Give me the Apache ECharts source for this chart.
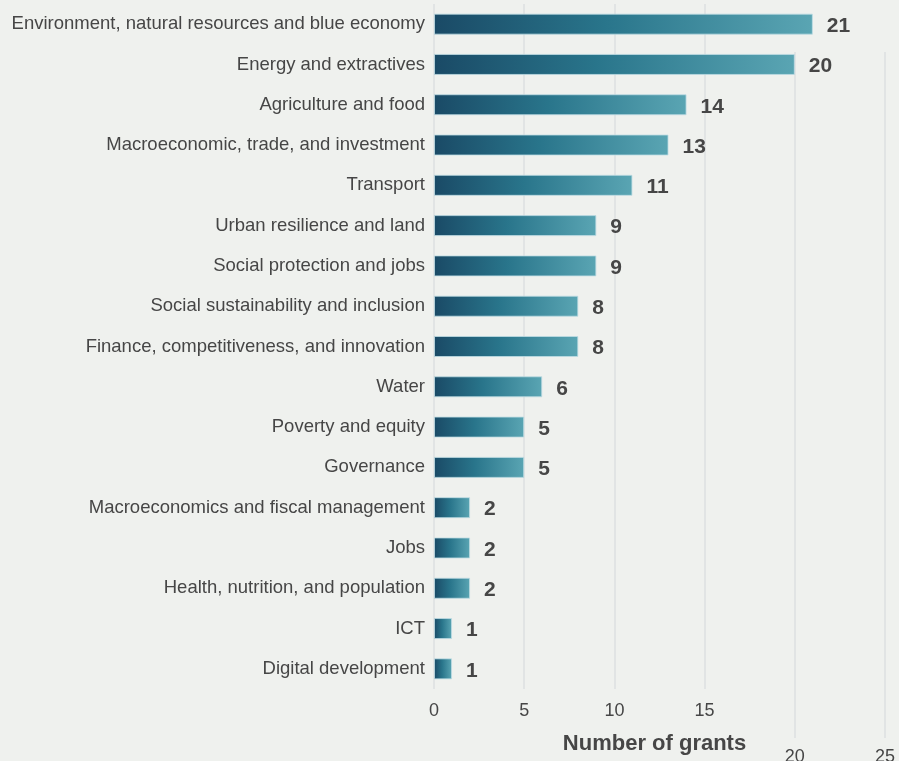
<!DOCTYPE html>
<html>
<head>
<meta charset="utf-8">
<script src="https://cdn.jsdelivr.net/npm/echarts@6/dist/echarts.min.js"></script>
<style>
  html, body { margin: 0; padding: 0; background: #eff1ee; }
  #chart { width: 899px; height: 761px; }
</style>
</head>
<body>
<div id="chart"></div>
<script>
// Grant counts by practice area, largest first
const categories = [
  'Environment, natural resources and blue economy',
  'Energy and extractives',
  'Agriculture and food',
  'Macroeconomic, trade, and investment',
  'Transport',
  'Urban resilience and land',
  'Social protection and jobs',
  'Social sustainability and inclusion',
  'Finance, competitiveness, and innovation',
  'Water',
  'Poverty and equity',
  'Governance',
  'Macroeconomics and fiscal management',
  'Jobs',
  'Health, nutrition, and population',
  'ICT',
  'Digital development'
];
const grants = [21, 20, 14, 13, 11, 9, 9, 8, 8, 6, 5, 5, 2, 2, 2, 1, 1];
const xTicks = [0, 5, 10, 15, 20, 25];
const axisTitle = 'Number of grants';

const FONT = 'Liberation Sans, Arial, sans-serif';
const TEXT = '#464646';
const GRID_LINE = '#dcdfe1';

const chart = echarts.init(document.getElementById('chart'), null, { renderer: 'canvas' });

const barGradient = new echarts.graphic.LinearGradient(0, 0, 1, 0, [
  { offset: 0, color: '#1a4a66' },
  { offset: 0.45, color: '#29758b' },
  { offset: 1, color: '#5aa5b3' }
]);

// ticks up to 15 sit on the upper axis, the rest on the lower one
const lowTicks = xTicks.filter(v => v <= 15);

chart.setOption({
  backgroundColor: '#eff1ee',
  animation: false,
  grid: [
    { left: 434, right: 14, top: 4, bottom: 72, outerBoundsMode: 'none' },
    { left: 434, right: 14, top: 52, bottom: 23, outerBoundsMode: 'none' }
  ],
  xAxis: [
    {
      gridIndex: 0,
      type: 'value',
      min: xTicks[0],
      max: xTicks[xTicks.length - 1],
      interval: 5,
      axisLine: { show: false },
      axisTick: { show: false },
      splitLine: {
        show: true,
        lineStyle: {
          color: xTicks.map(v => (v <= 15 ? GRID_LINE : 'rgba(0,0,0,0)')),
          width: 1.5
        }
      },
      axisLabel: {
        margin: 13,
        fontFamily: FONT,
        fontSize: 18,
        color: TEXT,
        formatter: v => (lowTicks.indexOf(v) >= 0 ? String(v) : '')
      },
      name: axisTitle,
      nameLocation: 'middle',
      nameGap: 44,
      nameTextStyle: {
        fontFamily: FONT,
        fontSize: 22,
        fontWeight: 'bold',
        color: TEXT,
        padding: [0, 10, 0, 0]
      }
    },
    {
      gridIndex: 1,
      type: 'value',
      min: xTicks[0],
      max: xTicks[xTicks.length - 1],
      interval: 5,
      axisLine: { show: false },
      axisTick: { show: false },
      splitLine: {
        show: true,
        lineStyle: {
          color: xTicks.map(v => (v > 15 ? GRID_LINE : 'rgba(0,0,0,0)')),
          width: 1.5
        }
      },
      axisLabel: {
        margin: 10,
        fontFamily: FONT,
        fontSize: 18,
        color: TEXT,
        formatter: v => (lowTicks.indexOf(v) >= 0 ? '' : String(v))
      }
    }
  ],
  yAxis: [
    {
      gridIndex: 0,
      type: 'category',
      data: categories,
      inverse: true,
      axisLine: { show: false },
      axisTick: { show: false },
      axisLabel: {
        margin: 9,
        fontFamily: FONT,
        fontSize: 18.5,
        color: TEXT
      }
    },
    {
      gridIndex: 1,
      type: 'category',
      data: categories,
      inverse: true,
      show: false
    }
  ],
  series: [
    {
      type: 'bar',
      xAxisIndex: 0,
      yAxisIndex: 0,
      data: grants,
      barWidth: 21,
      itemStyle: {
        color: barGradient,
        borderColor: 'rgba(190,220,228,0.8)',
        borderWidth: 1
      },
      label: {
        show: true,
        position: 'right',
        distance: 14,
        offset: [0, 2],
        fontFamily: FONT,
        fontSize: 21,
        fontWeight: 'bold',
        color: TEXT
      }
    }
  ]
});
</script>
</body>
</html>
